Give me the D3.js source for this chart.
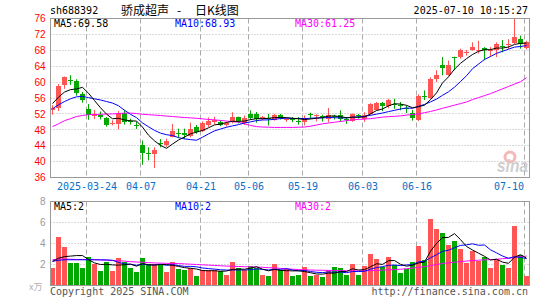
<!DOCTYPE html>
<html>
<head>
<meta charset="utf-8">
<script src="https://cdn.jsdelivr.net/npm/d3@7"></script>
<style>
body { margin: 0; background: #fff; }
svg text { font-family: "DejaVu Sans Mono", monospace; font-size: 10px; }
</style>
</head>
<body>
<div id="chart"></div>
<script>
// Stammdaten / Kopfzeile
var code = "sh688392";
var titleName = "骄成超声";
var titleKind = "日K线图";
var stamp = "2025-07-10 10:15:27";

// Handelstage (MM-DD)
var dates = ["03-14","03-17","03-18","03-19","03-20","03-21","03-24","03-25","03-26","03-27",
  "03-28","03-31","04-01","04-02","04-03","04-07","04-08","04-09","04-10","04-11",
  "04-14","04-15","04-16","04-17","04-18","04-21","04-22","04-23","04-24","04-25",
  "04-28","04-29","04-30","05-06","05-07","05-08","05-09","05-12","05-13","05-14",
  "05-15","05-16","05-19","05-20","05-21","05-22","05-23","05-26","05-27","05-28",
  "05-29","05-30","06-03","06-04","06-05","06-06","06-09","06-10","06-11","06-12",
  "06-13","06-16","06-17","06-18","06-19","06-20","06-23","06-24","06-25","06-26",
  "06-27","06-30","07-01","07-02","07-03","07-04","07-07","07-08","07-09","07-10"];

var open = [53.0,53.5,59.3,60.6,60.2,56.9,53.3,51.4,51.8,50.9, 49.6,49.5,52.3,50.3,49.3,44.1,42.2,42.0,44.6,44.1,
  46.3,47.2,47.3,46.4,48.6,47.8,49.1,50.0,50.0,49.3, 49.9,51.1,49.6,52.0,51.9,50.7,51.0,50.5,51.8,50.4,
  50.7,50.2,49.9,51.9,51.5,51.4,50.6,51.4,51.6,50.8, 50.1,51.7,50.6,52.0,53.0,54.7,54.1,54.6,54.2,53.6,
  52.3,50.4,56.6,56.0,60.8,64.2,61.7,66.2,66.3,67.4, 68.1,68.0,68.6,68.0,68.1,69.0,69.3,69.9,70.9,68.7];
var high = [54.2,59.5,61.4,61.7,60.7,57.5,54.5,53.0,52.6,51.2, 50.4,52.7,53.0,50.8,50.0,45.3,43.6,43.6,45.7,45.8,
  49.5,48.3,48.3,49.8,49.2,50.1,51.1,51.3,50.4,50.0, 52.4,51.3,51.6,52.9,52.5,51.5,52.0,52.0,52.0,51.0,
  51.2,51.2,51.6,52.3,51.9,51.8,53.5,51.8,52.9,51.2, 52.1,52.0,52.4,54.7,55.0,55.0,55.8,55.8,55.0,54.1,
  53.0,56.9,57.9,61.2,63.0,66.3,65.4,66.4,68.4,68.1, 70.0,70.4,68.8,68.8,70.0,70.6,70.8,75.9,71.7,70.4];
var low = [51.8,52.7,58.3,59.3,56.6,54.8,50.5,50.7,50.6,48.8, 49.1,48.1,49.3,49.3,48.2,39.2,40.3,38.4,43.6,43.7,
  46.1,46.0,45.7,46.1,47.0,47.4,48.7,49.4,48.9,48.8, 49.6,49.6,49.2,50.5,49.8,50.4,49.1,50.3,50.6,50.0,
  49.9,49.3,49.1,50.8,50.1,50.1,49.9,50.6,50.1,49.5, 50.0,50.8,50.0,51.8,52.9,52.7,53.4,53.3,52.9,52.2,
  50.3,50.2,55.5,55.8,60.0,61.7,61.6,63.0,65.9,66.7, 67.9,67.2,65.5,66.3,66.3,67.5,68.3,69.6,68.4,68.2];
var close = [53.6,59.0,61.2,60.3,57.3,55.6,51.6,52.0,51.2,49.3, 49.8,52.2,49.9,50.1,49.0,42.2,42.0,42.8,44.4,45.3,
  47.6,47.0,46.7,48.3,47.5,49.7,50.3,50.4,49.2,49.6, 51.2,50.1,50.9,51.0,50.8,51.2,50.6,51.8,51.0,50.7,
  50.4,50.0,50.8,51.7,51.7,51.2,51.8,51.1,50.6,50.5, 52.0,51.5,51.6,54.4,54.7,54.0,55.4,54.3,53.9,53.2,
  51.0,56.6,56.3,60.8,61.7,63.6,64.2,66.0,68.1,67.6, 68.8,68.2,68.0,68.2,69.6,68.8,69.5,71.3,69.5,70.0];

// Gleitende Durchschnitte Kurs
var ma5 = [54.6,56.2,57.5,58.1,58.28,58.68,57.2,55.36,53.54,51.94, 50.78,50.9,50.48,50.26,50.2,48.68,46.64,45.22,44.08,43.34,
  44.42,45.42,46.2,46.98,47.42,47.84,48.5,49.24,49.42,49.84, 50.14,50.1,50.2,50.56,50.8,50.8,50.9,51.08,51.08,51.06,
  50.9,50.78,50.58,50.72,50.92,51.08,51.44,51.5,51.28,51.04, 51.2,51.14,51.24,52.0,52.84,53.24,54.02,54.56,54.46,54.16,
  53.56,53.8,54.2,55.58,57.28,59.8,61.32,63.26,64.72,65.9, 66.94,67.74,68.14,68.16,68.56,68.56,68.82,69.48,69.74,69.82];
var ma10 = [53.3,54.3,55.1,55.8,56.3,56.4,56.1,55.8,55.5,55.11, 54.73,54.05,52.92,51.9,51.07,49.73,48.77,47.85,47.17,46.77,
  46.55,46.03,45.71,45.53,45.38,46.13,46.96,47.72,48.2,48.63, 48.99,49.3,49.72,49.99,50.32,50.47,50.5,50.64,50.82,50.93,
  50.85,50.84,50.83,50.9,50.99,50.99,51.11,51.04,51.0,50.98, 51.14,51.29,51.37,51.64,51.94,52.22,52.58,52.9,53.23,53.5,
  53.4,53.91,54.38,55.02,55.72,56.68,57.56,58.73,60.15,61.59, 63.37,64.53,65.7,66.44,67.23,67.75,68.28,68.81,68.95,69.19];
var ma30 = [48.8,49.5,50.3,50.8,51.35,51.6,51.8,51.85,51.9,51.95, 52.0,52.1,52.2,52.2,52.1,51.9,51.8,51.7,51.6,51.45,
  51.35,51.2,51.1,51.0,50.9,50.75,50.6,50.5,50.35,50.2, 50.05,49.9,49.5,49.1,48.8,48.7,48.65,48.6,48.6,48.6,
  48.6,48.65,48.7,48.9,49.2,49.5,49.7,49.9,50.1,50.3, 50.5,50.6,50.7,50.8,51.0,51.2,51.3,51.4,51.5,51.7,
  51.85,52.0,52.3,52.6,53.0,53.4,53.8,54.2,54.6,55.0, 55.6,56.1,56.6,57.1,57.7,58.3,58.9,59.5,60.1,61.1];

// Volumen (x万) und Durchschnitte
var volume = [1.7,4.6,3.65,2.15,2.15,1.7,2.7,2.05,1.38,2.27, 1.38,2.6,2.25,1.7,1.27,2.62,2.05,2.05,2.0,1.27,
  2.2,1.58,1.46,1.71,0.9,1.46,1.48,1.52,1.4,1.02, 2.22,1.65,1.46,1.9,1.71,1.02,0.92,2.08,1.45,1.6,
  0.9,0.98,1.72,0.9,1.0,0.78,1.52,1.72,1.65,1.0, 2.05,1.0,1.86,2.98,2.48,1.72,2.75,1.98,1.16,1.6,
  2.22,3.76,2.41,6.31,5.36,4.98,3.84,4.22,3.46,2.12, 3.27,2.33,2.7,1.71,2.48,1.93,1.71,5.66,2.87,0.89];
var volMa5 = [2.3,2.6,2.75,2.8,2.85,2.85,2.47,2.15,2.0,2.02, 1.96,1.94,1.98,2.04,1.84,2.09,1.98,1.94,2.0,2.0,
  1.91,1.82,1.7,1.64,1.57,1.42,1.4,1.41,1.35,1.38, 1.53,1.56,1.55,1.65,1.79,1.55,1.4,1.53,1.44,1.41,
  1.39,1.4,1.33,1.22,1.1,1.08,1.18,1.18,1.33,1.33, 1.59,1.48,1.51,1.78,2.07,2.01,2.36,2.38,2.02,1.84,
  1.94,2.14,2.23,3.26,4.01,4.56,4.58,4.94,4.37,3.72, 3.38,3.08,2.78,2.43,2.5,2.23,2.11,2.7,2.93,2.61];
var volMa10 = [2.3,2.4,2.45,2.45,2.45,2.45,2.45,2.45,2.44,2.44, 2.4,2.2,2.06,2.02,1.93,2.02,1.96,1.96,2.02,1.92,
  2.0,1.9,1.82,1.82,1.78,1.67,1.61,1.56,1.5,1.47, 1.48,1.48,1.48,1.5,1.58,1.54,1.48,1.54,1.54,1.6,
  1.47,1.4,1.43,1.33,1.26,1.23,1.29,1.26,1.28,1.22, 1.33,1.33,1.35,1.56,1.7,1.8,1.92,1.95,1.9,1.96,
  1.98,2.25,2.31,2.64,2.93,3.25,3.36,3.59,3.82,3.87, 3.97,3.83,3.86,3.4,3.11,2.81,2.59,2.74,2.68,2.56];
var volMa30 = [2.45,2.52,2.52,2.5,2.48,2.48,2.47,2.46,2.44,2.41, 2.38,2.35,2.32,2.27,2.24,2.21,2.18,2.15,2.13,2.11,
  2.1,2.09,2.06,2.03,2.0,1.97,1.94,1.91,1.88,1.85, 1.83,1.81,1.79,1.78,1.76,1.73,1.7,1.67,1.63,1.59,
  1.55,1.52,1.49,1.47,1.46,1.45,1.44,1.43,1.42,1.41, 1.4,1.39,1.4,1.42,1.44,1.46,1.49,1.52,1.55,1.6,
  1.66,1.72,1.8,1.9,2.0,2.09,2.16,2.22,2.27,2.33, 2.37,2.41,2.44,2.46,2.5,2.55,2.6,2.68,2.76,2.8];

// Achsenbeschriftung
var priceTicks = [36,40,44,48,52,56,60,64,68,72,76];
var volTicks = [2,4,6,8];
var tickDates = ["03-24","04-07","04-21","05-06","05-19","06-03","06-16","07-10"];
var tickLabels = ["2025-03-24","04-07","04-21","05-06","05-19","06-03","06-16","07-10"];
var priceLegend = [["MA5:69.58","#000"],["MA10:68.93","#00f"],["MA30:61.25","#f0f"]];
var volLegend = [["MA5:2","#000"],["MA10:2","#00f"],["MA30:2","#f0f"]];

var RED = "#ff5555", GREEN = "#00a800";

function drawChart(target) {
    var svg = d3.select(target).append("svg")
            .attr("width", 545)
            .attr("height", 300);

    var box = {left: 50.5, right: 529.5, top: 18.5, bottom: 177.5, vTop: 201.5, vBottom: 285.5};

    var x = d3.scalePoint().domain(dates).range([52.5, 526.5]);
    var yP = d3.scaleLinear().domain([36, 76]).range([box.bottom, box.top]);
    var yV = d3.scaleLinear().domain([0, 8]).range([box.vBottom, box.vTop]);

    function crisp(v) { return Math.floor(v) + 0.5; }

    // Clip fuer beide Felder
    var defs = svg.append("defs");
    defs.append("clipPath").attr("id", "clipP").append("rect")
            .attr("x", box.left).attr("y", box.top)
            .attr("width", box.right - box.left).attr("height", box.bottom - box.top);
    defs.append("clipPath").attr("id", "clipV").append("rect")
            .attr("x", box.left).attr("y", box.vTop)
            .attr("width", box.right - box.left).attr("height", box.vBottom - box.vTop);

    // Gitter horizontal
    svg.append("g").selectAll("line")
            .data(priceTicks.filter(function (d) { return d > 36 && d < 76; }))
            .enter().append("line")
            .attr("x1", box.left).attr("x2", box.right)
            .attr("y1", function (d) { return crisp(yP(d)); })
            .attr("y2", function (d) { return crisp(yP(d)); })
            .attr("stroke", "#b4b4b4").attr("stroke-dasharray", "1,2");
    svg.append("g").selectAll("line")
            .data(volTicks.filter(function (d) { return d < 8; }))
            .enter().append("line")
            .attr("x1", box.left).attr("x2", box.right)
            .attr("y1", function (d) { return crisp(yV(d)); })
            .attr("y2", function (d) { return crisp(yV(d)); })
            .attr("stroke", "#b4b4b4").attr("stroke-dasharray", "1,2");

    // Gitter vertikal (gestrichelt, beide Felder)
    [[box.top, box.bottom], [box.vTop, box.vBottom]].forEach(function (r) {
        svg.append("g").selectAll("line")
                .data(tickDates)
                .enter().append("line")
                .attr("x1", function (d) { return x(d) - 2; })
                .attr("x2", function (d) { return x(d) - 2; })
                .attr("y1", r[0]).attr("y2", r[1])
                .attr("stroke", "#aaa").attr("stroke-dasharray", "5,3");
    });

    // Watermark
    var wm = svg.append("g");
    wm.append("circle").attr("cx", 510).attr("cy", 157).attr("r", 5)
            .attr("fill", "none").attr("stroke", "#f4b8b8").attr("stroke-width", 3);
    wm.append("text").attr("x", 497).attr("y", 172)
            .attr("textLength", 31).attr("lengthAdjust", "spacingAndGlyphs")
            .style("font-family", "Liberation Sans, sans-serif").style("font-size", "19px")
            .style("font-weight", "bold").style("font-style", "italic")
            .attr("fill", "#cfcfcf").text("sina");

    // Kerzen
    var candles = svg.append("g").attr("clip-path", "url(#clipP)");
    var idx = d3.range(dates.length);
    function col(i) { return close[i] >= open[i] ? RED : GREEN; }
    candles.selectAll("line.wick")
            .data(idx)
            .enter().append("line")
            .attr("x1", function (i) { return x(dates[i]); })
            .attr("x2", function (i) { return x(dates[i]); })
            .attr("y1", function (i) { return yP(high[i]); })
            .attr("y2", function (i) { return yP(low[i]); })
            .attr("stroke", col);
    candles.selectAll("rect")
            .data(idx)
            .enter().append("rect")
            .attr("x", function (i) { return x(dates[i]) - 2.5; })
            .attr("y", function (i) { return Math.round(yP(Math.max(open[i], close[i]))); })
            .attr("width", 5)
            .attr("height", function (i) {
                return Math.max(1, Math.round(yP(Math.min(open[i], close[i]))) - Math.round(yP(Math.max(open[i], close[i]))));
            })
            .attr("fill", col);

    // MA Linien Kurs
    var lineP = d3.line().x(function (d, i) { return x(dates[i]); }).y(function (d) { return yP(d); });
    [[ma30, "#f0f"], [ma10, "#00f"], [ma5, "#000"]].forEach(function (m) {
        svg.append("path").datum(m[0]).attr("clip-path", "url(#clipP)")
                .attr("d", lineP).attr("fill", "none").attr("stroke", m[1]).attr("stroke-width", 1);
    });

    // Volumenbalken
    svg.append("g").selectAll("rect")
            .data(idx)
            .enter().append("rect")
            .attr("x", function (i) { return x(dates[i]) - 2.5; })
            .attr("y", function (i) { return Math.round(yV(volume[i])); })
            .attr("width", 5)
            .attr("height", function (i) { return 285 - Math.round(yV(volume[i])); })
            .attr("fill", col);

    var lineV = d3.line().x(function (d, i) { return x(dates[i]); }).y(function (d) { return yV(d); });
    [[volMa30, "#f0f"], [volMa10, "#00f"], [volMa5, "#000"]].forEach(function (m) {
        svg.append("path").datum(m[0]).attr("clip-path", "url(#clipV)")
                .attr("d", lineV).attr("fill", "none").attr("stroke", m[1]).attr("stroke-width", 1);
    });

    // Rahmen
    [[box.top, box.bottom], [box.vTop, box.vBottom]].forEach(function (r) {
        svg.append("rect").attr("x", box.left).attr("y", r[0])
                .attr("width", box.right - box.left).attr("height", r[1] - r[0])
                .attr("fill", "none").attr("stroke", "#999");
    });

    // Achsen
    var ay = svg.append("g").attr("transform", "translate(" + box.left + ",0)")
            .call(d3.axisLeft(yP).tickValues(priceTicks).tickSize(0).tickPadding(5));
    ay.select(".domain").remove();
    ay.selectAll("text").attr("fill", "#f00")
            .style("font-family", "Liberation Sans, Arial, sans-serif").style("font-size", "10px");

    var av = svg.append("g").attr("transform", "translate(" + box.left + ",0)")
            .call(d3.axisLeft(yV).tickValues(volTicks).tickSize(0).tickPadding(5));
    av.select(".domain").remove();
    av.selectAll("text").attr("fill", "#999")
            .style("font-family", "Liberation Sans, Arial, sans-serif").style("font-size", "10px");

    var ax = svg.append("g").attr("transform", "translate(-2," + box.bottom + ")")
            .call(d3.axisBottom(x).tickValues(tickDates).tickSize(0).tickPadding(5)
                    .tickFormat(function (d, i) { return tickLabels[i]; }));
    ax.select(".domain").remove();
    ax.selectAll("text").attr("fill", "#0a6fc8")
            .style("font-family", "DejaVu Sans Mono, monospace").style("font-size", "10px");
    ax.selectAll("text").filter(function (d) { return d === tickDates[tickDates.length - 1]; })
            .attr("text-anchor", "end").attr("x", -1);

    // Legenden
    var legX = [54, 175, 295];
    svg.append("g").selectAll("text").data(priceLegend).enter().append("text")
            .attr("x", function (d, i) { return legX[i]; }).attr("y", 27)
            .attr("fill", function (d) { return d[1]; }).text(function (d) { return d[0]; });
    svg.append("g").selectAll("text").data(volLegend).enter().append("text")
            .attr("x", function (d, i) { return legX[i]; }).attr("y", 210)
            .attr("fill", function (d) { return d[1]; }).text(function (d) { return d[0]; });

    // Kopfzeile
    svg.append("text").attr("x", 50).attr("y", 14).attr("fill", "#000").text(code);
    var t = svg.append("text").attr("y", 15).attr("fill", "#000")
            .style("font-family", "Noto Sans CJK SC").style("font-size", "12px");
    t.append("tspan").attr("x", 121).text(titleName);
    t.append("tspan").attr("x", 177).text("-");
    t.append("tspan").attr("x", 195).text(titleKind);
    svg.append("text").attr("x", 528).attr("y", 14).attr("text-anchor", "end")
            .attr("fill", "#000").text(stamp);

    // Fusszeile
    svg.append("text").attr("x", 29).attr("y", 290).attr("fill", "#b0b0b0")
            .style("font-family", "Noto Sans CJK SC").style("font-size", "9px").text("x万");
    svg.append("text").attr("x", 50).attr("y", 295).attr("fill", "#555").text("Copyright 2025 SINA.COM");
    svg.append("text").attr("x", 528).attr("y", 295).attr("text-anchor", "end")
            .attr("fill", "#555").text("http://finance.sina.com.cn");
}

drawChart("#chart");
</script>
</body>
</html>
